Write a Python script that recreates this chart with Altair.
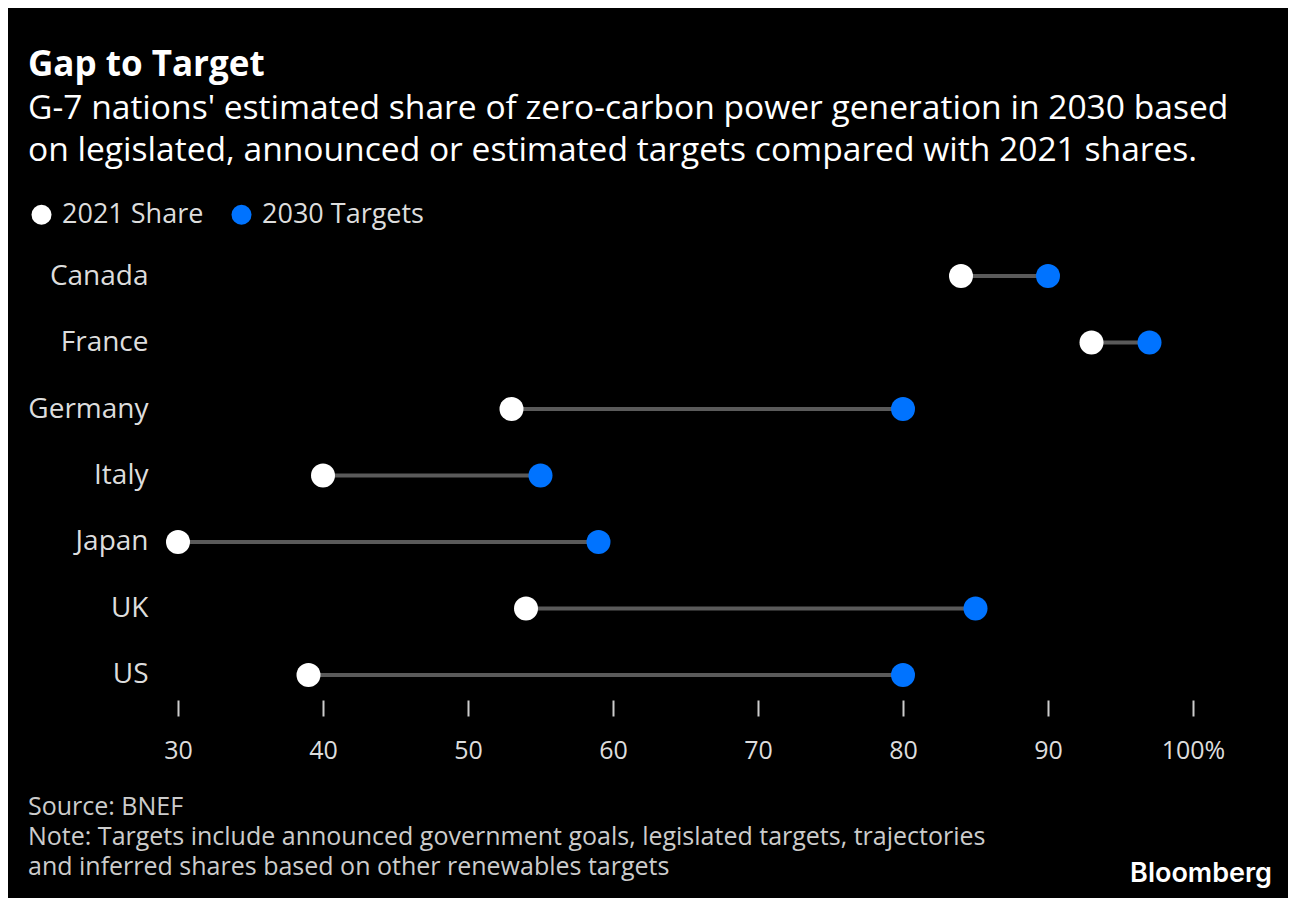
import altair as alt
import pandas as pd

countries = ["Canada", "France", "Germany", "Italy", "Japan", "UK", "US"]
share_2021 = [84, 93, 53, 40, 30, 54, 39]
target_2030 = [90, 97, 80, 55, 59, 85, 80]
series_names = ["2021 Share", "2030 Targets"]
x_ticks = [30, 40, 50, 60, 70, 80, 90, 100]

title_text = "Gap to Target"
subtitle_lines = [
    "G-7 nations' estimated share of zero-carbon power generation in 2030 based",
    "on legislated, announced or estimated targets compared with 2021 shares.",
]
footer_lines = [
    "Source: BNEF",
    "Note: Targets include announced government goals, legislated targets, trajectories",
    "and inferred shares based on other renewables targets",
]

FONT = "Open Sans"
W, H = 1015, 449
TOP = 251  # page y of plot top

wide = pd.DataFrame({"country": countries, "s2021": share_2021, "t2030": target_2030})
long = pd.concat([
    pd.DataFrame({"country": countries, "value": share_2021, "series": series_names[0]}),
    pd.DataFrame({"country": countries, "value": target_2030, "series": series_names[1]}),
])

xscale = alt.Scale(domain=[30, 100], nice=False, zero=False)
yscale = alt.Scale(type="point", padding=0.376)
ysort = countries

xaxis = alt.Axis(values=x_ticks, title=None, grid=False, domain=False,
                 tickColor="#cccccc", tickSize=16, tickWidth=2,
                 labelColor="#dddddd", labelFont=FONT, labelFontSize=25,
                 labelPadding=22, labelFlush=False,
                 labelExpr="datum.value == 100 ? '100%' : datum.label")
yaxis = alt.Axis(title=None, domain=False, ticks=False, grid=False,
                 labelColor="#dddddd", labelFont=FONT, labelFontSize=28,
                 labelPadding=30)

rules = alt.Chart(wide).mark_rule(color="#5a5a5a", strokeWidth=4).encode(
    x=alt.X("s2021:Q", scale=xscale, axis=xaxis),
    x2="t2030:Q",
    y=alt.Y("country:N", sort=ysort, scale=yscale, axis=yaxis),
)

points = alt.Chart(long).mark_circle(size=576, opacity=1).encode(
    x=alt.X("value:Q", scale=xscale),
    y=alt.Y("country:N", sort=ysort, scale=yscale),
    color=alt.Color("series:N", scale=alt.Scale(domain=series_names, range=["#ffffff", "#0073ff"]),
                    legend=alt.Legend(title=None, orient="none", direction="horizontal",
                                      legendX=-150, legendY=-50,
                                      symbolType="circle", symbolSize=400,
                                      symbolStrokeWidth=0, symbolOpacity=1,
                                      labelFont=FONT, labelFontSize=27, labelColor="#dddddd",
                                      labelLimit=400, columnPadding=24, labelOffset=7)),
)

def text_layer(txt, y, size, color="#ffffff", weight="normal", x=-150, align="left", font=FONT):
    return alt.Chart(pd.DataFrame({"t": [txt]})).mark_text(
        align=align, baseline="alphabetic", font=font, fontSize=size,
        fontWeight=weight, color=color,
    ).encode(text="t:N", x=alt.value(x), y=alt.value(y))

texts = [
    text_layer(title_text, 76 - TOP, 35, weight="bold"),
    text_layer(subtitle_lines[0], 119 - TOP, 33.6),
    text_layer(subtitle_lines[1], 161 - TOP, 33.6),
    text_layer(footer_lines[0], 815 - TOP, 25, color="#cccccc"),
    text_layer(footer_lines[1], 845 - TOP, 25, color="#cccccc"),
    text_layer(footer_lines[2], 875 - TOP, 25, color="#cccccc"),
    text_layer("Bloomberg", 882 - TOP, 27, weight=600, x=1272 - 178, align="right", font="Inter"),
]

chart = alt.layer(rules, points, *texts).properties(
    width=W, height=H,
    background="#000000",
    padding={"left": 170, "top": TOP - 8, "right": 95, "bottom": 890 - (TOP - 8) - H},
    autosize=alt.AutoSizeParams(type="none"),
).configure_view(stroke=None)

chart.save("out.html", embed_options={"renderer": "svg", "actions": False})
